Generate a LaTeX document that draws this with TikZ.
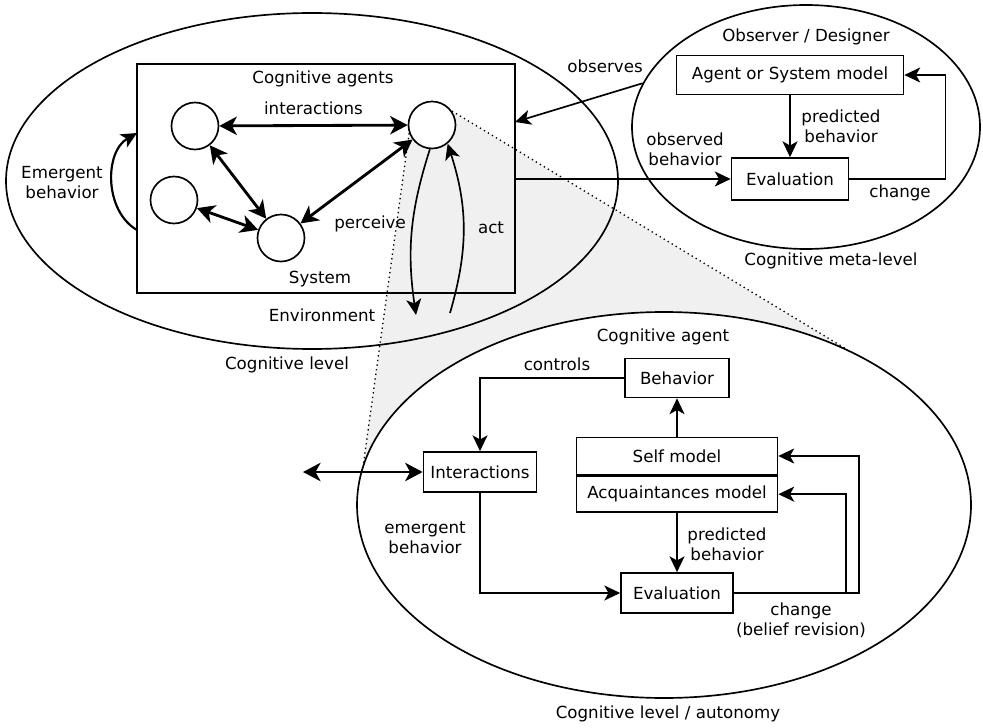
\documentclass[tikz,border=0pt]{standalone}
\usepackage{fontspec}
\setmainfont{DejaVu Sans}
\usetikzlibrary{shapes.geometric, arrows.meta, backgrounds}

\tikzset{
	flow/.style={-{Stealth[length=9.5pt, width=9pt, inset=2.5pt]}},
	link/.style={{Stealth[length=10.5pt, width=11pt, inset=3pt]}-{Stealth[length=10.5pt, width=11pt, inset=3pt]}, line width=1.7pt},
}

\begin{document}
\begin{tikzpicture}[x=0.6pt, y=-0.6pt, line width=1pt,
	box/.style={draw, fill=white, inner sep=0pt},
	agent/.style={circle, draw, fill=white, minimum size=28.2pt, inner sep=0pt},
	level/.style={ellipse, draw, inner sep=0pt},
	cone/.style={dotted, line width=0.8pt}]
	
	\useasboundingbox (0,0) rectangle (983,728);
	
	% the three levels
	\node[level, fill=white, minimum width=368.4pt, minimum height=231.6pt] (agentlvl) at (664,505) {};
	\node[level, minimum width=367.2pt, minimum height=201.6pt] (coglvl) at (312,181) {};
	\node[level, minimum width=208.8pt, minimum height=146.4pt] (metalvl) at (806,127) {};
	
	% system with its agents
	\node[draw, minimum width=226.8pt, minimum height=137.4pt] (sys) at (326,178.5) {};
	\node[agent] (c1) at (195,126) {};
	\node[agent] (c2) at (432,125) {};
	\node[agent] (c3) at (174,200) {};
	\node[agent] (c4) at (281,238) {};
	
	% zoom from one agent onto the agent level
	\begin{scope}[on background layer]
		\fill[gray!12] (c2.200) -- (c2.35) -- (agentlvl.41) -- (agentlvl.172) -- cycle;
	\end{scope}
	\draw[cone] (c2.200) -- (agentlvl.172);
	\draw[cone] (c2.35) -- (agentlvl.41);
	
	\draw[link] (c1) -- (c2) node[midway, above=2pt] (lblinter) {interactions};
	\draw[link] (c1) -- (c4);
	\draw[link] (c3) -- (c4);
	\draw[link] (c2) -- (c4);
	
	\coordinate (emlow) at (137,230);
	\coordinate (emhigh) at (137,133);
	\draw[flow, line width=1.3pt] (emlow) to[bend left=60] (emhigh);
	
	\coordinate (envdown) at (416,315);
	\coordinate (envup) at (450,313);
	\draw[flow] (c2.265) to[bend right=13] (envdown);
	\draw[flow] (envup) to[bend right=17] (c2.-50);
	
	\node (lblagents) at (323,79) {Cognitive agents};
	\node (lblperc) at (370,224) {perceive};
	\node (lblact) at (491,228) {act};
	\node (lblsys) at (320,279) {System};
	\node (lblenv) at (322,315) {Environment};
	\node (lblcog) at (287,365) {Cognitive level};
	\node[align=center] (lblemerg) at (62,183) {Emergent\\behavior};
	
	% observer / designer
	\node (lblobs) at (806,37) {Observer / Designer};
	\node[box, minimum width=136.2pt, minimum height=23.4pt] (model) at (790,75) {Agent or System model};
	\node[box, minimum width=70.2pt, minimum height=25.2pt] (meval) at (790,179) {Evaluation};
	\draw[flow] (model) -- (meval);
	\draw[flow] (meval -| sys.east) -- (meval);
	\draw[flow] (meval.east) -- ++(96,0) |- (model.east);
	\coordinate (obsin) at (515,122);
	\draw[flow] (metalvl.165) -- (obsin);
	
	\node (lblobserves) at (605,66) {observes};
	\node[align=center] (lblmpred) at (841,126) {predicted\\behavior};
	\node[align=center] (lblmobs) at (685,149) {observed\\behavior};
	\node (lblmchange) at (900,193) {change};
	\node (lblmeta) at (831,261) {Cognitive meta-level};
	
	% inside one cognitive agent
	\node (lblagent) at (663,337) {Cognitive agent};
	\node[box, minimum width=62.4pt, minimum height=23.4pt] (behav) at (677,378) {Behavior};
	\node[box, minimum width=67.8pt, minimum height=24pt] (inter) at (480,472) {Interactions};
	\node[box, minimum width=120.6pt, minimum height=22.2pt] (self) at (677,456) {Self model};
	\node[box, minimum width=120.6pt, minimum height=21.6pt, anchor=north] (acq) at (self.south) {Acquaintances model};
	\node[box, minimum width=67.2pt, minimum height=24pt] (aeval) at (677,593) {Evaluation};
	
	\draw[flow] (self) -- (behav);
	\draw[flow] (acq) -- (aeval);
	\draw[flow] (behav.west) -| (inter.north);
	\draw[flow] (inter.south) |- (aeval.west);
	\coordinate (outer) at (303,472);
	\draw[link] (outer) -- (inter.west);
	\draw[flow] (aeval.east) -- ++(125,0) |- (self.east);
	\draw[flow] (aeval.east) ++(112,0) |- (acq.east);
	
	\node (lblcontrols) at (557,364) {controls};
	\node[align=center] (lblemb) at (425,538) {emergent\\behavior};
	\node[align=center] (lblapred) at (727,544) {predicted\\behavior};
	\node[align=center] (lblachange) at (801,620) {change\\(belief revision)};
	\node (lblauto) at (668,714) {Cognitive level / autonomy};
\end{tikzpicture}
\end{document}
